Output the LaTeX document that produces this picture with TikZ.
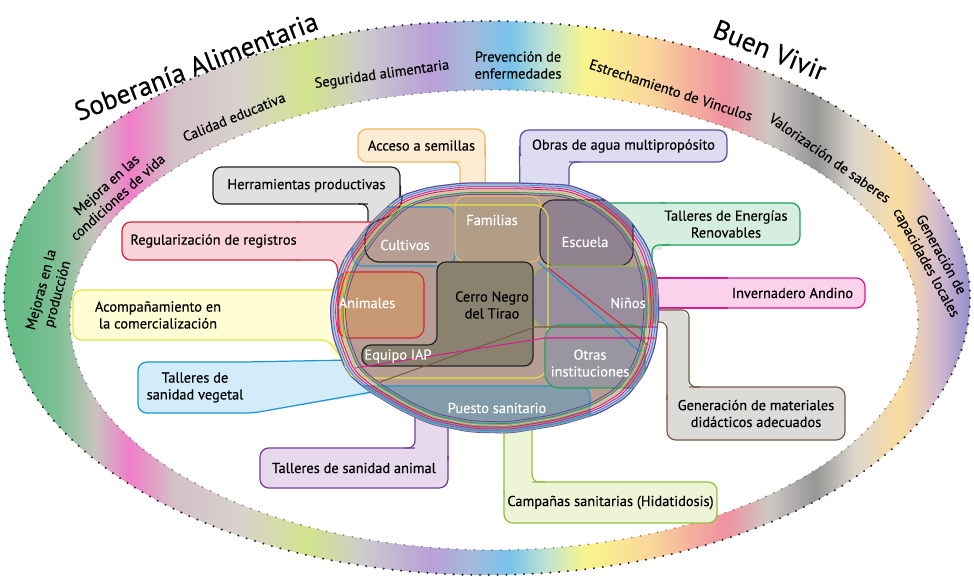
\documentclass[tikz,border=0pt]{standalone}
\usepackage{fontspec}
\setmainfont{PT Sans}[FakeBold=0.35]
\usepackage{tikz}

% colores del anillo
\definecolor{verde}{RGB}{95,185,130}
\definecolor{verdeclaro}{RGB}{125,192,148}
\definecolor{grisA}{RGB}{200,196,190}
\definecolor{rosa}{RGB}{240,125,200}
\definecolor{grisB}{RGB}{212,192,198}
\definecolor{grisC}{RGB}{215,210,205}
\definecolor{lima}{RGB}{210,228,140}
\definecolor{grisD}{RGB}{205,203,205}
\definecolor{lila}{RGB}{185,160,215}
\definecolor{azulgris}{RGB}{165,185,220}
\definecolor{celeste}{RGB}{120,195,235}
\definecolor{celesteclaro}{RGB}{190,225,210}
\definecolor{amarillo}{RGB}{250,245,140}
\definecolor{naranja}{RGB}{250,215,155}
\definecolor{rojizo}{RGB}{240,145,160}
\definecolor{grisE}{RGB}{205,200,195}
\definecolor{grisoscuro}{RGB}{150,150,150}
\definecolor{beige}{RGB}{220,215,205}
\definecolor{ocre}{RGB}{250,220,160}
\definecolor{malva}{RGB}{215,190,205}
\definecolor{violeta}{RGB}{150,140,205}

\pgfdeclarehorizontalshading{anillo}{100bp}{color(0bp)=(verde); color(25bp)=(verde);
  color(27.8bp)=(verdeclaro); color(29.7bp)=(grisA); color(31.5bp)=(rosa); color(33.8bp)=(grisB);
  color(37.2bp)=(grisC); color(40.8bp)=(lima); color(43.6bp)=(grisD); color(47bp)=(lila);
  color(49.1bp)=(azulgris); color(51.2bp)=(celeste); color(53bp)=(celesteclaro); color(55.1bp)=(amarillo);
  color(58.4bp)=(naranja); color(62.3bp)=(rojizo); color(64.6bp)=(grisE); color(67bp)=(grisoscuro);
  color(69bp)=(beige); color(71.4bp)=(ocre); color(73.2bp)=(malva); color(75bp)=(violeta); color(100bp)=(violeta)}

% colores de los recuadros
\definecolor{semBorde}{RGB}{240,185,100}
\definecolor{semFondo}{RGB}{253,236,212}
\definecolor{herBorde}{RGB}{35,35,35}
\definecolor{herFondo}{RGB}{224,224,224}
\definecolor{aguBorde}{RGB}{90,80,165}
\definecolor{aguFondo}{RGB}{222,220,240}
\definecolor{eneBorde}{RGB}{30,160,90}
\definecolor{eneFondo}{RGB}{214,238,224}
\definecolor{regBorde}{RGB}{215,35,55}
\definecolor{regFondo}{RGB}{250,212,218}
\definecolor{invBorde}{RGB}{220,25,140}
\definecolor{invFondo}{RGB}{250,210,235}
\definecolor{acoBorde}{RGB}{228,228,60}
\definecolor{acoFondo}{RGB}{255,253,212}
\definecolor{vegBorde}{RGB}{30,150,210}
\definecolor{vegFondo}{RGB}{210,236,250}
\definecolor{aniBorde}{RGB}{115,60,150}
\definecolor{aniFondo}{RGB}{232,216,238}
\definecolor{camBorde}{RGB}{150,190,65}
\definecolor{camFondo}{RGB}{238,245,215}
\definecolor{matBorde}{RGB}{120,90,70}
\definecolor{matFondo}{RGB}{221,219,216}

% colores de la mancha
\definecolor{lavanda}{RGB}{205,198,222}
\definecolor{pardo}{RGB}{182,158,148}
\definecolor{familias}{RGB}{178,158,135}
\definecolor{escuela}{RGB}{144,130,142}
\definecolor{animales}{RGB}{200,152,115}
\definecolor{centro}{RGB}{138,130,110}
\definecolor{ninos}{RGB}{152,142,158}
\definecolor{otras}{RGB}{154,150,160}
\definecolor{puesto}{RGB}{130,156,170}

\newcommand{\letra}{\fontsize{8.2}{9.6}\selectfont}

\tikzset{
  caja/.style={draw, rounded corners=5pt, line width=0.7pt, align=center, inner sep=1pt, font=\letra},
  cola/.style={line width=0.7pt, rounded corners=4pt},
  rotulo/.style={align=center, font=\letra},
  zona/.style={align=center, font=\letra, text=white},
  titulo/.style={font=\fontsize{15.5}{18}\selectfont},
  puntos/.style={line width=1.3pt, line cap=round, dash pattern=on 0pt off 5pt},
}

\def\mancha{(330,310) -- (333,290) -- (343,260) -- (367,227) -- (387,207) -- (402,195) -- (430,187) -- (463,183) -- (520,183) -- (570,185) -- (603,198) -- (630,220) -- (648,247) -- (657,277) -- (659,313) -- (655,347) -- (645,373) -- (627,397) -- (600,413) -- (560,425) -- (510,433) -- (470,432) -- (430,424) -- (400,410) -- (367,390) -- (347,373) -- (333,337) -- cycle}

\begin{document}
\begin{tikzpicture}[x=0.02cm, y=-0.02cm]
\useasboundingbox (0,0) rectangle (974,577);

	% Anillo
	\shade[shading=anillo, even odd rule] (487,298) ellipse [x radius=483, y radius=277] (494,320) ellipse [x radius=424, y radius=230];
	\draw[puntos, black!85] (487,298) ellipse [x radius=483, y radius=277];
	\draw[puntos, black!55, line width=1pt] (494,320) ellipse [x radius=424, y radius=230];

	\node[titulo, rotate=21] (sob) at (196,66) {Soberanía Alimentaria};
	\node[titulo, rotate=-22] (bv) at (770,50) {Buen Vivir};

	\node[rotulo, rotate=75] (prod) at (50,292) {Mejoras en la\\producción};
	\node[rotulo, rotate=42] (vida) at (112,191) {Mejora en las\\condiciones de vida};
	\node[rotulo, rotate=22] (edu) at (234,117) {Calidad educativa};
	\node[rotulo, rotate=8] (seg) at (382,75) {Seguridad alimentaria};
	\node[rotulo] (prev) at (518,65) {Prevención de\\enfermedades};
	\node[rotulo, rotate=-18] (vinc) at (671,90) {Estrechamiento de Vinculos};
	\node[rotulo, rotate=-35] (sab) at (830,158) {Valorización de saberes};
	\node[rotulo, rotate=-61] (cap) at (933,259) {Generación de\\capacidades locales};

	% Recuadros
	\node[caja, draw=semBorde, fill=semFondo, minimum width=2.54cm, minimum height=0.66cm] (sem) at (421.5,145.5) {Acceso a semillas};
	\node[caja, draw=herBorde, fill=herFondo, minimum width=3.74cm, minimum height=0.74cm] (her) at (306.5,185.5) {Herramientas productivas};
	\node[caja, draw=aguBorde, fill=aguFondo, minimum width=4.14cm, minimum height=0.64cm] (agu) at (623.5,146) {Obras de agua multipropósito};
	\node[caja, draw=eneBorde, fill=eneFondo, minimum width=2.96cm, minimum height=0.84cm] (ene) at (726,224) {Talleres de Energías\\Renovables};
	\node[caja, draw=regBorde, fill=regFondo, minimum width=3.66cm, minimum height=0.76cm] (reg) at (213.5,241) {Regularización de registros};
	\node[caja, draw=invBorde, fill=invFondo, minimum width=2.90cm, minimum height=0.60cm] (inv) at (792.5,293) {Invernadero Andino};
	\node[caja, draw=acoBorde, fill=acoFondo, minimum width=3.40cm, minimum height=1.00cm] (aco) at (158,315) {Acompañamiento en\\la comercialización};
	\node[caja, draw=vegBorde, fill=vegFondo, minimum width=2.28cm, minimum height=1.02cm] (veg) at (195,387.5) {Talleres de\\sanidad vegetal};
	\node[caja, draw=aniBorde, fill=aniFondo, minimum width=3.76cm, minimum height=0.80cm] (ani) at (354,468) {Talleres de sanidad animal};
	\node[caja, draw=camBorde, fill=camFondo, minimum width=4.26cm, minimum height=0.82cm] (cam) at (610.5,502.5) {Campañas sanitarias (Hidatidosis)};
	\node[caja, draw=matBorde, fill=matFondo, minimum width=3.56cm, minimum height=1.06cm] (mat) at (756,413.5) {Generación de materiales\\didácticos adecuados};

	% Colas
	\fill[semFondo] (460,156) rectangle (485,200);
	\draw[cola, semBorde] (450,162) -- (460,162) -- (460,200) (sem.east) -- (485,200);

	\fill[herFondo] (368,198) rectangle (400,240);
	\draw[cola, herBorde] (358,204) -- (368,204) -- (368,240) (her.east) -- (400,240);

	\fill[aguFondo] (520,156) rectangle (569,200);
	\draw[cola, aguBorde] (agu.west) -- (520,200) (580,162) -- (569,162) -- (569,200);

	\fill[eneFondo] (575,203) -- (662,203) -- (662,250) -- (652,250) -- (652,290) -- (590,290) -- cycle;
	\draw[cola, eneBorde] (575,203) -- (665,203) (670,245) -- (652,245) -- (652,290);

	\fill[regFondo] (296,222) -- (372,222) -- (372,300) -- (342,300) -- (336,260) -- (296,260) -- cycle;
	\draw[cola, regBorde] (296,222) -- (372,222) (296,260) -- (336,260) -- (342,300);

	\fill[invFondo] (650,278) rectangle (728,308);
	\draw[cola, invBorde] (650,278) -- (728,278) (650,308) -- (728,308);

	\fill[acoFondo] (235,290) -- (345,290) -- (345,360) -- (335,360) -- (328,340) -- (235,340) -- cycle;
	\draw[cola, acoBorde] (235,290) -- (345,290) (235,340) -- (328,340) -- (342,358);

	\fill[vegFondo] (244,362) -- (350,360) -- (372,394) -- (253,413) -- (244,413) -- cycle;
	\draw[cola, vegBorde] (244,362) -- (350,360) (244,413) -- (253,413) -- (372,392);

	\fill[aniFondo] (415,415) rectangle (448,456);
	\draw[cola, aniBorde] (405,448) -- (415,448) -- (415,415) (448,460) -- (448,415);

	\fill[camFondo] (504,420) rectangle (532,490);
	\draw[cola, camBorde] (504,495) -- (504,420) (545,482) -- (532,482) -- (532,420);

	\fill[matFondo] (667,395) -- (667,322) -- (650,322) -- (650,309) -- (680,309) -- (689,318) -- (689,395) -- cycle;
	\draw[cola, matBorde] (667,400) -- (667,322) -- (650,322) (700,387) -- (689,387) -- (689,310) -- (650,310);

	% Mancha central
	\draw[aguBorde, fill=lavanda, line width=0.7pt, rounded corners=5pt] \mancha;
	\begin{scope}
		\clip[rounded corners=5pt] \mancha;
		\fill[pardo, rounded corners=5pt, scale around={0.93:(495,310)}] \mancha;
		\draw[fill=pardo, draw=vegBorde, line width=0.6pt, rounded corners=6pt] (352,207) rectangle (455,266);
		\draw[herBorde, line width=0.7pt, rounded corners=8pt] (402,190) -- (402,212) -- (365,225) -- (365,262) -- (437,262);
		\draw[fill=familias, draw=semBorde, line width=0.6pt, rounded corners=6pt] (455,196) rectangle (541,262);
		\draw[fill=escuela, draw=herBorde, line width=0.6pt, rounded corners=8pt] (540,200) rectangle (633,266);
		\draw[fill=ninos, draw=camBorde, line width=0.6pt, rounded corners=8pt] (533,266) rectangle (658,328);
		\draw[fill=animales, draw=regBorde, line width=0.6pt, rounded corners=6pt] (338,272) rectangle (424,338);
		\draw[fill=puesto, draw=vegBorde, line width=0.6pt, rounded corners=6pt] (345,386) rectangle (590,445);
		\draw[acoBorde, line width=0.6pt, rounded corners=8pt] (345,205) rectangle (548,378);
		\draw[fill=centro, draw=herBorde, line width=0.7pt, rounded corners=5pt] (437,262) -- (533,262) -- (533,366) -- (362,366) -- (362,345) -- (437,345) -- cycle;
		\draw[fill=otras, draw=eneBorde, line width=0.6pt, rounded corners=8pt] (545,325) rectangle (645,388);
		\draw[regBorde, line width=0.6pt] (548,268) -- (648,345);
		\draw[vegBorde, line width=0.6pt] (538,262) -- (640,352);
		\draw[matBorde, line width=0.6pt] (380,382) -- (535,327) -- (662,327);
		\draw[invBorde, line width=0.6pt] (355,368) -- (545,338) -- (655,338);
	\end{scope}
	\foreach \c/\s in {vegBorde/0.985, invBorde/0.97, regBorde/0.955, semBorde/0.94, eneBorde/0.925, aniBorde/0.91}
		\draw[\c, line width=0.45pt, rounded corners=5pt, scale around={\s:(495,310)}] \mancha;

	% Zonas
	\node[zona] (cul) at (405,245) {Cultivos};
	\node[zona] (fam) at (492,220) {Familias};
	\node[zona] (esc) at (585,242) {Escuela};
	\node[zona] (anim) at (367,303) {Animales};
	\node[rotulo] (cen) at (492,305) {Cerro Negro\\del Tirao};
	\node[zona] (nin) at (628,303) {Niños};
	\node[zona] (iap) at (398,356) {Equipo IAP};
	\node[zona] (otr) at (590,363) {Otras\\instituciones};
	\node[zona] (pue) at (497,408) {Puesto sanitario};

\end{tikzpicture}
\end{document}
